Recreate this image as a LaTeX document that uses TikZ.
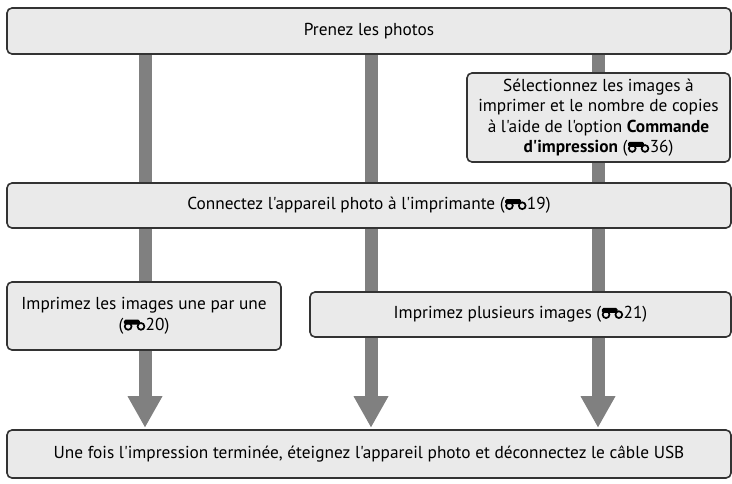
\documentclass[tikz,border=0pt]{standalone}
\usepackage{fontspec}
\setmainfont{PT Sans}[Ligatures=TeXOff]
\usetikzlibrary{backgrounds}
\definecolor{boxfill}{HTML}{EAEAEA}
\definecolor{boxline}{HTML}{333333}
\definecolor{bargray}{HTML}{808080}
\newcommand\bino{\kern0.5pt\tikz[x=1pt,y=1pt,baseline=0pt,line width=1.7pt]{%
  \draw[black] (4.6,4.1) circle[radius=3.4];
  \draw[black] (17.4,4.1) circle[radius=3.4];
  \fill[black,rounded corners=1.5pt] (0.4,5.8) rectangle (16.2,10.8);}\kern0.5pt}
\begin{document}
\begin{tikzpicture}[x=1pt,y=-1pt,
  box/.style={draw=boxline, fill=boxfill, line width=1.6pt, rounded corners=5pt,
    inner sep=0pt, align=center, font=\fontsize{17.3}{20.5}\selectfont, text=black},
  bar/.style={draw=bargray, line width=13pt},
  tip/.style={fill=bargray}]
\useasboundingbox (0,0) rectangle (732,483);
\node[box, minimum width=724pt, minimum height=46pt] (top) at (369,31) {Prenez les photos};
\node[box, minimum width=263pt, minimum height=89pt] (sel) at (598.5,117.5)
  {Sélectionnez les images à\\imprimer et le nombre de copies\\à l'aide de l'option \textbf{Commande}\\\textbf{d'impression} (\bino 36)};
\node[box, minimum width=724pt, minimum height=45pt] (con) at (369,205.5)
  {Connectez l'appareil photo à l'imprimante (\bino 19)};
\node[box, minimum width=274pt, minimum height=68pt] (one) at (144,316)
  {Imprimez les images une par une\\(\bino 20)};
\node[box, minimum width=421pt, minimum height=45pt] (multi) at (520.5,314.5)
  {Imprimez plusieurs images (\bino 21)};
\node[box, minimum width=724pt, minimum height=48pt] (bot) at (369,454)
  {Une fois l'impression terminée, éteignez l'appareil photo et déconnectez le câble USB};
\coordinate (c1) at (145,0);
\coordinate (c2) at (371,0);
\coordinate (c3) at (598,0);
\begin{scope}[on background layer]
  \foreach \c in {c1,c2,c3}{
    \draw[bar] (top.south -| \c) -- ([yshift=30pt]bot.north -| \c);
    \fill[tip] ([yshift=2pt]bot.north -| \c) -- ++(-17.5,-31) -- ++(35,0) -- cycle;
  }
\end{scope}
\end{tikzpicture}
\end{document}
